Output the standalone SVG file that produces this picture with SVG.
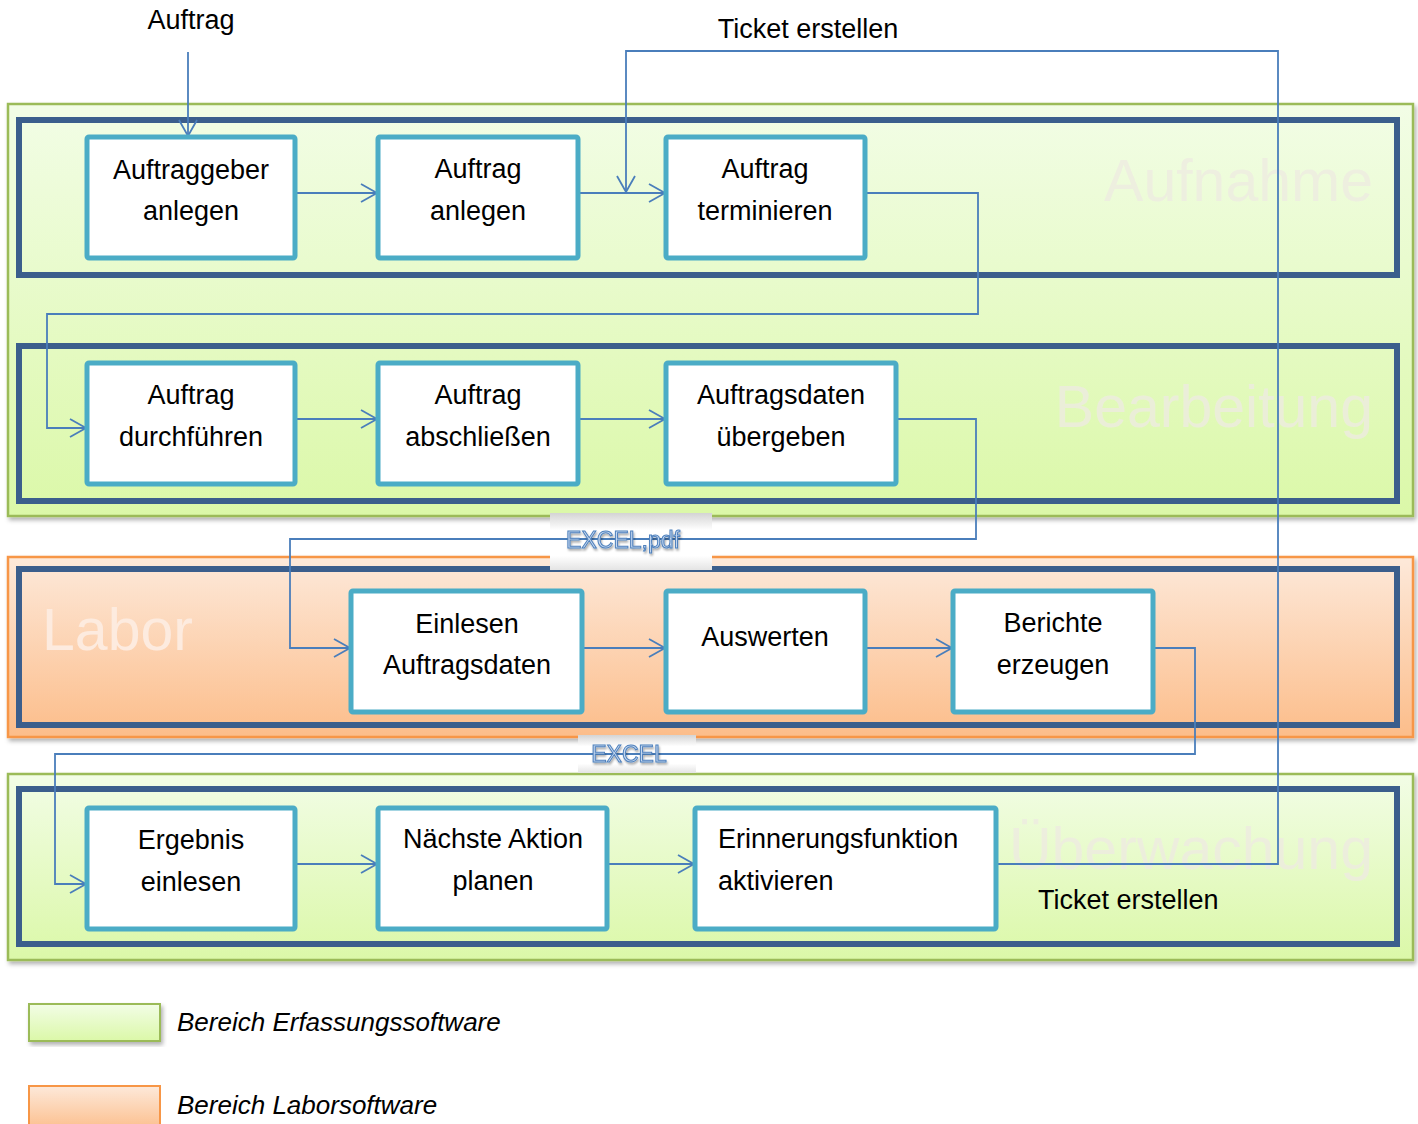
<svg xmlns="http://www.w3.org/2000/svg" width="1418" height="1124" viewBox="0 0 1418 1124">
<defs>
<linearGradient id="gGreen" x1="0" y1="0" x2="0" y2="1"><stop offset="0" stop-color="#f2fde6"/><stop offset="1" stop-color="#dbf8a8"/></linearGradient>
<linearGradient id="gOrange" x1="0" y1="0" x2="0" y2="1"><stop offset="0" stop-color="#fde9da"/><stop offset="1" stop-color="#fcbd8a"/></linearGradient>
<linearGradient id="gLabel" x1="0" y1="0" x2="0" y2="1"><stop offset="0" stop-color="#d4d4d4"/><stop offset="0.3" stop-color="#ffffff"/><stop offset="0.75" stop-color="#ffffff"/><stop offset="1" stop-color="#e4e4e4"/></linearGradient>
<filter id="sh" x="-5%" y="-5%" width="110%" height="120%"><feDropShadow dx="2" dy="3" stdDeviation="2" flood-color="#000" flood-opacity="0.3"/></filter>
<filter id="tsh" x="-10%" y="-20%" width="120%" height="150%"><feDropShadow dx="1" dy="2" stdDeviation="1" flood-color="#000" flood-opacity="0.35"/></filter>
<marker id="arr" markerUnits="userSpaceOnUse" markerWidth="20" markerHeight="20" refX="18" refY="10" orient="auto"><path d="M2,1 L18,10 L2,19" fill="none" stroke="#4a7ebb" stroke-width="1.8"/></marker>
<style>
.band-g{fill:url(#gGreen);stroke:#9bbb59;stroke-width:2.5;filter:url(#sh)}
.band-o{fill:url(#gOrange);stroke:#f79646;stroke-width:2.5;filter:url(#sh)}
.lane{fill:none;stroke:#3b5e8c;stroke-width:6}
.node rect{fill:#ffffff;stroke:#4bacc6;stroke-width:5}
.t{font-family:"Liberation Sans",Arial,sans-serif;font-size:27px;fill:#000}
.c{text-anchor:middle}
.wm{font-family:"Liberation Sans",Arial,sans-serif;font-size:59px;fill:#eeece1;opacity:0.8}
.con{fill:none;stroke:#4a7ebb;stroke-width:1.8}
.lbl{font-family:"Liberation Sans",Arial,sans-serif;font-size:23px;fill:#c6d9f1;stroke:#4f81bd;stroke-width:1;text-anchor:middle;filter:url(#tsh)}
.leg{font-family:"Liberation Sans",Arial,sans-serif;font-size:26px;font-style:italic;fill:#000}
</style>
</defs>
<rect width="1418" height="1124" fill="#ffffff"/>

<g id="bands">
<rect class="band-g" x="8" y="104" width="1405" height="412"/>
<rect class="band-o" x="8" y="557" width="1405" height="180"/>
<rect class="band-g" x="8" y="774" width="1405" height="186"/>
<rect class="lane" x="19" y="120" width="1378" height="155"/>
<rect class="lane" x="19" y="346" width="1378" height="155"/>
<rect class="lane" x="19" y="569" width="1378" height="156"/>
<rect class="lane" x="19" y="789" width="1378" height="155"/>
<text class="wm" x="1373" y="201" text-anchor="end">Aufnahme</text>
<text class="wm" x="1373" y="427" text-anchor="end">Bearbeitung</text>
<text class="wm" x="42" y="650" style="fill:#fdebdf;opacity:1">Labor</text>
<text class="wm" x="1373" y="869" text-anchor="end">Überwachung</text>
</g>

<g id="label-boxes">
<rect x="550" y="513" width="162" height="57" fill="url(#gLabel)"/>
<rect x="578" y="735" width="118" height="38" fill="url(#gLabel)"/>
</g>

<g id="connectors">
<line class="con" x1="188" y1="52" x2="188" y2="136" marker-end="url(#arr)"/>
<line class="con" x1="295" y1="193" x2="377" y2="193" marker-end="url(#arr)"/>
<line class="con" x1="578" y1="193" x2="665" y2="193" marker-end="url(#arr)"/>
<polyline class="con" points="996,864 1278,864 1278,51 626,51 626,192" marker-end="url(#arr)"/>
<polyline class="con" points="865,193 978,193 978,314 47,314 47,428 86,428" marker-end="url(#arr)"/>
<line class="con" x1="295" y1="419" x2="377" y2="419" marker-end="url(#arr)"/>
<line class="con" x1="578" y1="419" x2="665" y2="419" marker-end="url(#arr)"/>
<polyline class="con" points="896,419 976,419 976,539 290,539 290,648 350,648" marker-end="url(#arr)"/>
<line class="con" x1="582" y1="648" x2="665" y2="648" marker-end="url(#arr)"/>
<line class="con" x1="865" y1="648" x2="952" y2="648" marker-end="url(#arr)"/>
<polyline class="con" points="1153,648 1195,648 1195,754 55,754 55,884 86,884" marker-end="url(#arr)"/>
<line class="con" x1="295" y1="864" x2="377" y2="864" marker-end="url(#arr)"/>
<line class="con" x1="607" y1="864" x2="694" y2="864" marker-end="url(#arr)"/>
<text class="lbl" x="623" y="548">EXCEL,pdf</text>
<text class="lbl" x="629" y="762">EXCEL</text>
</g>

<g id="n1" class="node"><rect x="87" y="137" width="208" height="121" rx="2"/><text class="t c" x="191" y="179">Auftraggeber</text><text class="t c" x="191" y="220">anlegen</text></g>
<g id="n2" class="node"><rect x="378" y="137" width="200" height="121" rx="2"/><text class="t c" x="478" y="178">Auftrag</text><text class="t c" x="478" y="220">anlegen</text></g>
<g id="n3" class="node"><rect x="666" y="137" width="199" height="121" rx="2"/><text class="t c" x="765" y="178">Auftrag</text><text class="t c" x="765" y="220">terminieren</text></g>
<g id="n4" class="node"><rect x="87" y="363" width="208" height="121" rx="2"/><text class="t c" x="191" y="404">Auftrag</text><text class="t c" x="191" y="446">durchführen</text></g>
<g id="n5" class="node"><rect x="378" y="363" width="200" height="121" rx="2"/><text class="t c" x="478" y="404">Auftrag</text><text class="t c" x="478" y="446">abschließen</text></g>
<g id="n6" class="node"><rect x="666" y="363" width="230" height="121" rx="2"/><text class="t c" x="781" y="404">Auftragsdaten</text><text class="t c" x="781" y="446">übergeben</text></g>
<g id="n7" class="node"><rect x="351" y="591" width="231" height="121" rx="2"/><text class="t c" x="467" y="633">Einlesen</text><text class="t c" x="467" y="674">Auftragsdaten</text></g>
<g id="n8" class="node"><rect x="666" y="591" width="199" height="121" rx="2"/><text class="t c" x="765" y="646">Auswerten</text></g>
<g id="n9" class="node"><rect x="953" y="591" width="200" height="121" rx="2"/><text class="t c" x="1053" y="632">Berichte</text><text class="t c" x="1053" y="674">erzeugen</text></g>
<g id="n10" class="node"><rect x="87" y="808" width="208" height="121" rx="2"/><text class="t c" x="191" y="849">Ergebnis</text><text class="t c" x="191" y="891">einlesen</text></g>
<g id="n11" class="node"><rect x="378" y="808" width="229" height="121" rx="2"/><text class="t c" x="493" y="848">Nächste Aktion</text><text class="t c" x="493" y="890">planen</text></g>
<g id="n12" class="node"><rect x="695" y="808" width="301" height="121" rx="2"/><text class="t" x="718" y="848">Erinnerungsfunktion</text><text class="t" x="718" y="890">aktivieren</text></g>

<g id="free-labels">
<text class="t c" x="191" y="29">Auftrag</text>
<text class="t c" x="808" y="38">Ticket erstellen</text>
<text class="t" x="1038" y="909">Ticket erstellen</text>
</g>

<g id="legend">
<rect x="29" y="1004" width="131" height="37" fill="url(#gGreen)" stroke="#9bbb59" stroke-width="2" filter="url(#sh)"/>
<text class="leg" x="177" y="1031">Bereich Erfassungssoftware</text>
<rect x="29" y="1086" width="131" height="45" fill="url(#gOrange)" stroke="#f79646" stroke-width="2"/>
<text class="leg" x="177" y="1114">Bereich Laborsoftware</text>
</g>
</svg>
